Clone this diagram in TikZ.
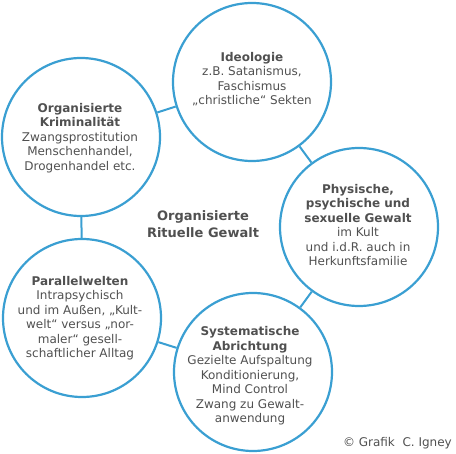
\documentclass[tikz,border=0pt]{standalone}
\usepackage{fontspec}
\setmainfont{DejaVu Sans}
\usepackage{tikz}

\definecolor{ringblue}{HTML}{3A9FD2}
\definecolor{textgray}{HTML}{505050}

\begin{document}
\begin{tikzpicture}[x=1pt, y=-1pt,
  ring/.style={circle, draw=ringblue, line width=2.2pt, minimum size=158pt, inner sep=0pt},
  txt/.style={align=center, text=textgray, inner sep=0pt, font=\fontsize{12}{14.5}\selectfont},
  link/.style={draw=ringblue, line width=2pt}]

\useasboundingbox (0,0) rectangle (456,454);

% Circles
\node[ring] (ideologie) at (252,82) {};
\node[ring] (kriminal) at (81,137) {};
\node[ring] (gewalt) at (359,227) {};
\node[ring] (parallel) at (82,318) {};
\node[ring] (abrichtung) at (253,372) {};

% Links between the circles
\draw[link] (ideologie) -- (kriminal);
\draw[link] (ideologie) -- (gewalt);
\draw[link] (gewalt) -- (abrichtung);
\draw[link] (abrichtung) -- (parallel);
\draw[link] (parallel) -- (kriminal);

% Texts
\node[txt] (ideologie text) at (252,79) {\textbf{Ideologie}\\z.B. Satanismus,\\Faschismus\\„christliche“ Sekten};
\node[txt] (kriminal text) at (80,138) {\textbf{Organisierte}\\\textbf{Kriminalität}\\Zwangsprostitution\\Menschenhandel,\\Drogenhandel etc.};
\node[txt] (gewalt text) at (358,225) {\textbf{Physische,}\\\textbf{psychische und}\\\textbf{sexuelle Gewalt}\\im Kult\\und i.d.R. auch in\\Herkunftsfamilie};
\node[txt] (parallel text) at (80,318) {\textbf{Parallelwelten}\\Intrapsychisch\\und im Außen, „Kult-\\welt“ versus „nor-\\maler“ gesell-\\schaftlicher Alltag};
\node[txt] (abrichtung text) at (250,376) {\textbf{Systematische}\\\textbf{Abrichtung}\\Gezielte Aufspaltung\\Konditionierung,\\Mind Control\\Zwang zu Gewalt-\\anwendung};

% Center title and credit
\node[txt, font=\bfseries\fontsize{13}{17}\selectfont] (titel) at (203,224) {Organisierte\\Rituelle Gewalt};
\node[txt, anchor=east, font=\fontsize{12}{14}\selectfont] (credit) at (452,443) {© Grafik\ \ C. Igney};

\end{tikzpicture}
\end{document}
